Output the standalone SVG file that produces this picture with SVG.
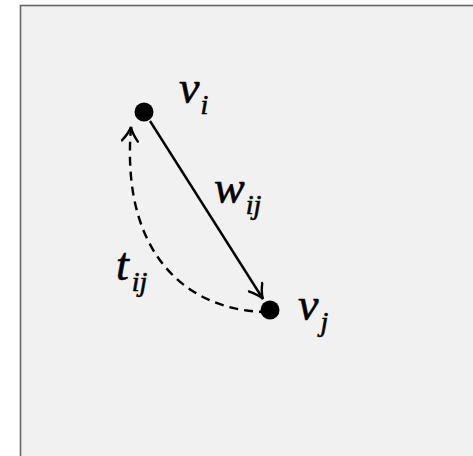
<svg xmlns="http://www.w3.org/2000/svg" width="473" height="456" viewBox="0 0 473 456">
<style>
.lbl{font-family:"Liberation Serif","Times New Roman",serif;font-style:italic;font-size:46px;fill:#000;stroke:#000;stroke-width:0.6}
.sub{font-size:28px}
.edge{fill:none;stroke:#000;stroke-width:2.4}
.node{fill:#000}
</style>
<defs>
<marker id="arr" viewBox="-16 -9 18 18" markerWidth="18" markerHeight="18" refX="0" refY="0" orient="auto" markerUnits="userSpaceOnUse">
<path d="M-14,-8 Q-6,-1.5 0,0 Q-6,1.5 -14,8" fill="none" stroke="#000" stroke-width="2.4" stroke-linecap="round"/>
</marker>
</defs>
<rect x="20.5" y="5.5" width="470" height="470" fill="#f1f1f1" stroke="#666" stroke-width="1.6"/>
<g id="connectors">
<line class="edge" x1="150" y1="121" x2="263" y2="299" marker-end="url(#arr)"/>
<path class="edge" d="M268,312 C195,312 120,262 131,127" stroke-dasharray="9,6" marker-end="url(#arr)"/>
</g>
<g id="vi">
<circle class="node" cx="144" cy="112" r="9.5"/>
<text class="lbl" x="179" y="103">v<tspan class="sub" dx="1" dy="11">i</tspan></text>
</g>
<g id="vj">
<circle class="node" cx="270" cy="310" r="9.5"/>
<text class="lbl" x="298" y="320">v<tspan class="sub" dx="2" dy="11">j</tspan></text>
</g>
<g id="wlabel">
<text class="lbl" x="214" y="203">w<tspan class="sub" dx="1" dy="11">ij</tspan></text>
</g>
<g id="tlabel">
<text class="lbl" x="116" y="280">t<tspan class="sub" dx="3" dy="11">ij</tspan></text>
</g>
</svg>
